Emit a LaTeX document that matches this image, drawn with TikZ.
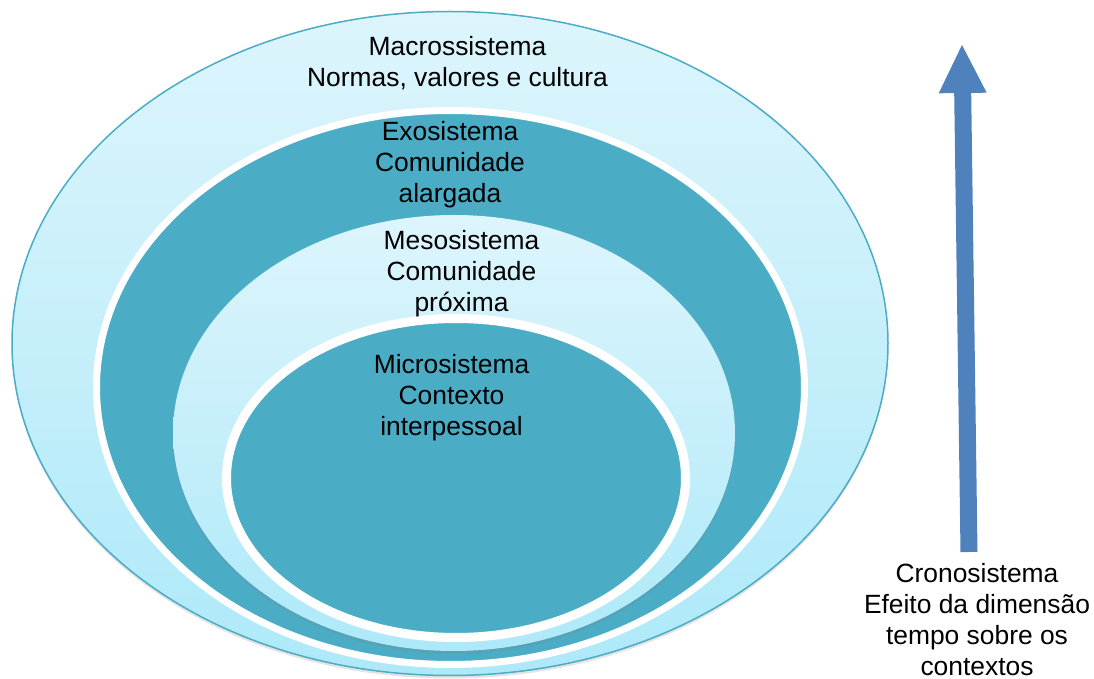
\documentclass[tikz,border=0pt]{standalone}
\usepackage{fontspec}
\setmainfont{Liberation Sans}
\usetikzlibrary{shapes.geometric,shadows}
\definecolor{sisteal}{HTML}{4BACC6}
\definecolor{sistop}{HTML}{DDF5FC}
\definecolor{sisbottom}{HTML}{AEE9F9}
\definecolor{cronoblue}{HTML}{4F81BD}
\tikzset{
  sistema/.style={ellipse, inner sep=0pt, outer sep=0pt},
  claro/.style={sistema, top color=sistop, bottom color=sisbottom},
  escuro/.style={sistema, fill=sisteal, draw=white},
  sombra/.style={drop shadow={shadow xshift=0pt, shadow yshift=-1.5pt, opacity=0.22}},
  rotulo/.style={align=center, inner sep=0pt, font=\fontsize{13.2}{15.5}\selectfont}
}
\begin{document}
\begin{tikzpicture}[x=0.5pt, y=-0.5pt]
    \useasboundingbox (0,0) rectangle (1094,679);

    % Elipses (de fora para dentro)
    \node[claro, sombra, draw=sisteal, line width=0.75pt,
          minimum width=438pt, minimum height=332pt] (macro) at (450,343.5) {};
    \node[escuro, sombra, line width=3.5pt,
          minimum width=354pt, minimum height=277pt] (exo) at (450.5,387.5) {};
    \node[claro, sombra,
          minimum width=281pt, minimum height=218pt] (meso) at (454,433) {};
    \node[escuro, sombra, line width=4.5pt,
          minimum width=229.5pt, minimum height=159.5pt] (micro) at (456,478) {};

    % Textos
    \node[rotulo] (tmacro) at (457.5,63) {Macrossistema\\Normas, valores e cultura};
    \node[rotulo] (texo) at (450,165) {Exosistema\\Comunidade\\alargada};
    \node[rotulo] (tmeso) at (461.5,274) {Mesosistema\\Comunidade\\próxima};
    \node[rotulo] (tmicro) at (451.5,397.5) {Microsistema\\Contexto\\interpessoal};
    \node[rotulo] (tcrono) at (977,620) {Cronosistema\\Efeito da dimensão\\tempo sobre os\\contextos};

    % Seta do tempo
    \coordinate (ponta) at (962,45);
    \coordinate (cauda) at (969,552);
    \fill[cronoblue] (ponta) -- (986.7,92.7) -- (971.2,92.9) -- (977.5,551.9)
        -- (960.5,552.1) -- (954.2,93.1) -- (938.7,93.3) -- cycle;
\end{tikzpicture}
\end{document}
